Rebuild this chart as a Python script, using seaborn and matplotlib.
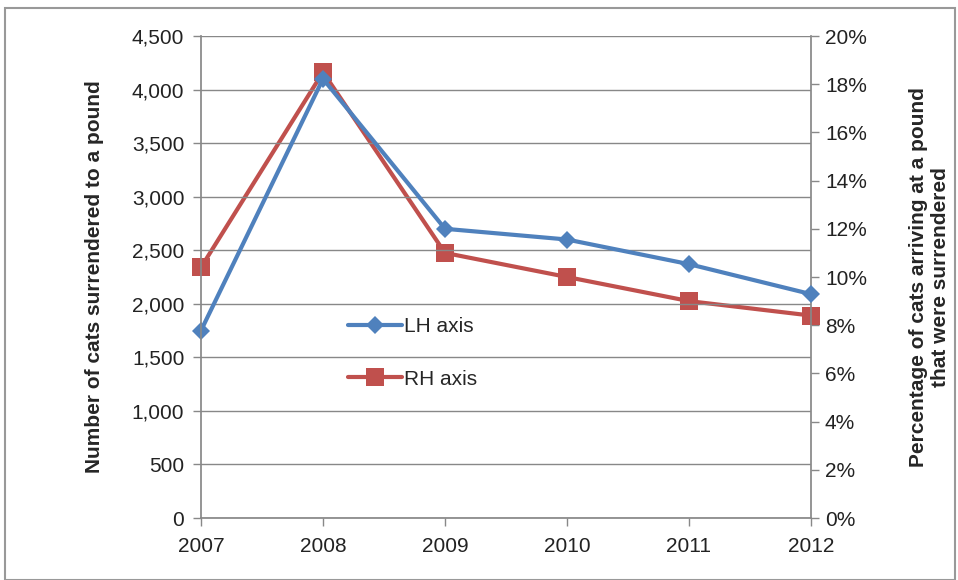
import matplotlib
matplotlib.use("Agg")
import matplotlib.pyplot as plt
import seaborn as sns
import pandas as pd
from matplotlib.patches import Rectangle
from matplotlib.ticker import FuncFormatter, MultipleLocator

years = [2007, 2008, 2009, 2010, 2011, 2012]
lh_values = [1750, 4100, 2700, 2600, 2370, 2090]
rh_values = [0.104, 0.185, 0.110, 0.100, 0.090, 0.084]
lh_label = "LH axis"
rh_label = "RH axis"
left_title = "Number of cats surrendered to a pound"
right_title = "Percentage of cats arriving at a pound\nthat were surrendered"

sns.set_theme(style="white")
plt.rcParams['font.family'] = ['Liberation Sans Narrow', 'Liberation Sans', 'DejaVu Sans']

blue = "#4F81BD"
red = "#C0504D"
grid_c = "#888888"

fig = plt.figure(figsize=(9.58, 5.8), dpi=100)
ax = fig.add_axes([201/958, 1-518/580, (811-201)/958, (518-36)/580])
ax2 = ax.twinx()

df_l = pd.DataFrame({"year": years, "value": lh_values})
df_r = pd.DataFrame({"year": years, "value": rh_values})

sns.lineplot(data=df_l, x="year", y="value", ax=ax, color=blue, marker="D",
             markersize=9, linewidth=3, markeredgewidth=0, label=lh_label, legend=False,
             clip_on=False)
sns.lineplot(data=df_r, x="year", y="value", ax=ax2, color=red, marker="s",
             markersize=13, linewidth=3, markeredgewidth=0, label=rh_label, legend=False,
             clip_on=False)

ax.set_xlim(2007, 2012)
ax.set_ylim(0, 4500)
ax.yaxis.set_major_locator(MultipleLocator(500))
ax.yaxis.set_major_formatter(FuncFormatter(lambda v, p: f"{int(v):,}"))
ax2.set_ylim(0, 0.20)
ax2.yaxis.set_major_locator(MultipleLocator(0.02))
ax2.yaxis.set_major_formatter(FuncFormatter(lambda v, p: f"{v*100:.0f}%"))
ax.set_xticks(years)
ax.set_xticklabels([str(y) for y in years])

ax.grid(axis="y", color=grid_c, linewidth=1)
ax.grid(axis="x", visible=False)
ax2.grid(False)
ax.set_axisbelow(True)

for a in (ax, ax2):
    for s in a.spines.values():
        s.set_visible(False)
ax.spines["left"].set_visible(True)
ax.spines["left"].set_color(grid_c)
ax.spines["bottom"].set_visible(True)
ax.spines["bottom"].set_color(grid_c)
ax2.spines["right"].set_visible(True)
ax2.spines["right"].set_color(grid_c)

ax.tick_params(axis="both", which="major", labelsize=15, colors="#222222",
               length=6, width=1, direction="out")
ax.tick_params(axis="both", color=grid_c)
ax.tick_params(axis="x", pad=8)
ax.tick_params(axis="y", pad=6, left=True)
ax2.tick_params(axis="y", labelsize=15, colors="#222222", length=6, width=1,
                color=grid_c, right=True, pad=4)
ax.tick_params(axis="x", bottom=True)

ax.set_xlabel("")
ax.set_ylabel(left_title, fontsize=15, fontweight="bold", labelpad=20)
ax2.set_ylabel(right_title, fontsize=15, fontweight="bold", labelpad=30)

ax.set_zorder(ax2.get_zorder() + 1)
ax.patch.set_visible(False)

h1, l1 = ax.get_legend_handles_labels()
h2, l2 = ax2.get_legend_handles_labels()
ax.legend(h1 + h2, l1 + l2, loc="upper left", bbox_to_anchor=(0.21, 0.455),
          frameon=False, fontsize=15, handlelength=2.6, labelspacing=1.6,
          handletextpad=0.1)

fig.patches.append(Rectangle((5/958, 0), 950/958, 1-8/580, transform=fig.transFigure,
                             fill=False, edgecolor="#999999", linewidth=1.5))

fig.savefig("out.png", dpi=100)
